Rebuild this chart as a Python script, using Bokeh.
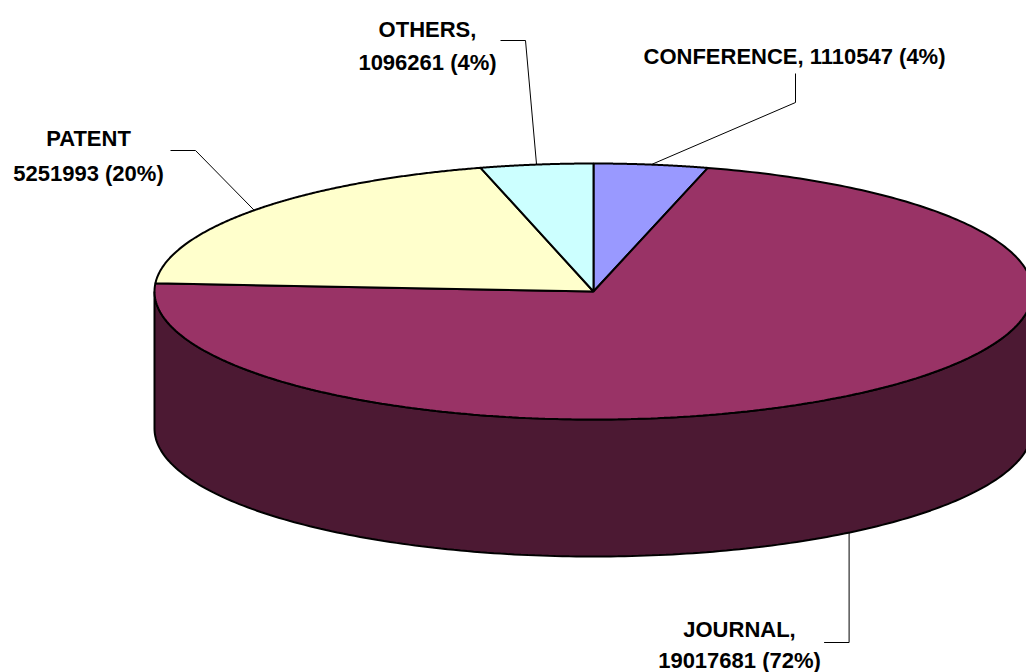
import numpy as np
from bokeh.plotting import figure
from bokeh.models import Range1d
from bokeh.core.properties import value
from bokeh.embed import file_html
from bokeh.resources import INLINE

# ---- data ----
categories = ["CONFERENCE", "JOURNAL", "PATENT", "OTHERS"]
counts = [1110547, 19017681, 5251993, 1096261]
top_colors = ["#9999FF", "#993366", "#FFFFCC", "#CCFFFF"]
side_colors = ["#4D4D80", "#4C1933", "#80804D", "#668080"]
label_lines = [
    ["CONFERENCE, {v} ({p}%)"],
    ["JOURNAL,", "{v} ({p}%)"],
    ["PATENT", "{v} ({p}%)"],
    ["OTHERS,", "{v} ({p}%)"],
]

# ---- layout (screen pixels) ----
W, H = 1026, 672
cx, cy = 593.0, 291.0
a, b = 439.0, 128.0
depth = 137.0

# label anchors: (text center x, first baseline y, line spacing), leader start & elbow
label_pos = {
    "CONFERENCE": dict(x=794, y=56, dy=0, lead=[(795, 73), (795, 102)]),
    "JOURNAL": dict(x=739, y=629, dy=31, lead=None),
    "PATENT": dict(x=88, y=138, dy=35, lead=[(170, 150), (195, 150)]),
    "OTHERS": dict(x=427, y=29, dy=33, lead=[(500, 40), (525, 40)]),
}

p = figure(width=W, height=H, output_backend="svg", toolbar_location=None,
           x_range=Range1d(0, W), y_range=Range1d(H, 0), min_border=0)
p.axis.visible = False
p.grid.visible = False
p.outline_line_color = None
p.background_fill_color = "white"
p.border_fill_color = "white"


def ell(t_deg, dz=0.0):
    t = np.radians(t_deg)
    return cx + a * np.sin(t), cy - b * np.cos(t) + dz


total = float(sum(counts))
angles = np.concatenate([[0.0], np.cumsum(counts) / total * 360.0])

# side walls (visible front half: 90..270 degrees)
for i in range(len(counts)):
    t0, t1 = angles[i], angles[i + 1]
    lo, hi = max(t0, 90.0), min(t1, 270.0)
    if hi <= lo:
        continue
    ts = np.linspace(lo, hi, 200)
    xt, yt = ell(ts)
    xb, yb = ell(ts[::-1], depth)
    p.patch(np.concatenate([xt, xb]), np.concatenate([yt, yb]),
            fill_color=side_colors[i], line_color="black", line_width=2)

# top faces
for i in range(len(counts)):
    t0, t1 = angles[i], angles[i + 1]
    ts = np.linspace(t0, t1, 300)
    xt, yt = ell(ts)
    xs = np.concatenate([[cx], xt])
    ys = np.concatenate([[cy], yt])
    p.patch(xs, ys, fill_color=top_colors[i], line_color="black", line_width=2)

# labels and leaders
for i, cat in enumerate(categories):
    pct = int(round(counts[i] / total * 100))
    lp = label_pos[cat]
    mid = (angles[i] + angles[i + 1]) / 2.0
    front = np.cos(np.radians(mid)) < 0
    ex, ey = ell(mid, depth if front else 0.0)
    lines = [s.format(v=counts[i], p=pct) for s in label_lines[i]]
    ys_t = [lp["y"] + k * lp["dy"] for k in range(len(lines))]
    p.text(x=[lp["x"]] * len(lines), y=ys_t, text=lines,
           text_font=value("Liberation Sans"), text_font_style="bold",
           text_font_size="22px", text_align="center", text_baseline="alphabetic",
           text_color="black")
    if lp["lead"] is None:
        pts = [(ex - 25, 642), (ex, 642), (ex, ey)]
    else:
        pts = lp["lead"] + [(ex, ey)]
    p.line([q[0] for q in pts], [q[1] for q in pts], line_color="black", line_width=1)

open("out.html", "w").write(file_html(p, INLINE))
